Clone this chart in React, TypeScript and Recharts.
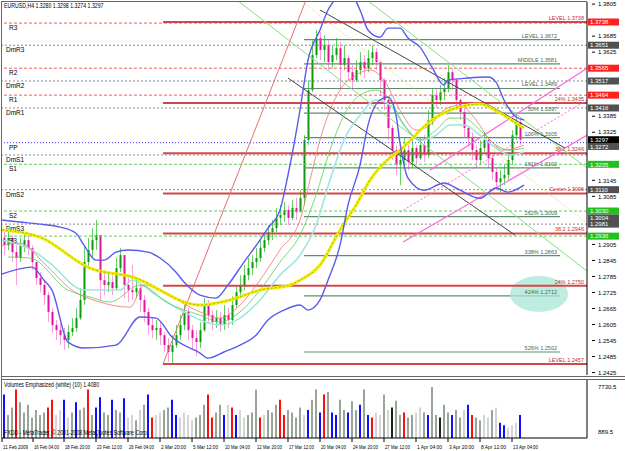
import React from 'react'
import { ComposedChart, Bar, Line, XAxis, YAxis, ReferenceLine, Cell } from 'recharts'

// EURUSD H4, candles sampled every 8 hours
const closes = [
  1.2902, 1.2929, 1.2876, 1.2854, 1.2902, 1.2921, 1.2891, 1.2839, 1.2779, 1.2753,
  1.2715, 1.2652, 1.2603, 1.2584, 1.2565, 1.2547, 1.2577, 1.2592, 1.2629, 1.2697,
  1.2839, 1.2884, 1.2921, 1.2940, 1.2771, 1.2753, 1.2764, 1.2741, 1.2816, 1.2865,
  1.2753, 1.2734, 1.2726, 1.2741, 1.2697, 1.2652, 1.2603, 1.2584, 1.2592, 1.2565,
  1.2528, 1.2502, 1.2528, 1.2565, 1.2603, 1.2652, 1.2584, 1.2554, 1.2539, 1.2584,
  1.2678, 1.2640, 1.2614, 1.2629, 1.2603, 1.2640, 1.2622, 1.2678, 1.2726, 1.2753,
  1.2790, 1.2816, 1.2839, 1.2854, 1.2891, 1.2921, 1.2951, 1.2966, 1.3004, 1.3015,
  1.3034, 1.3004, 1.3041, 1.3026, 1.3079, 1.3296, 1.3483, 1.3614, 1.3678, 1.3633,
  1.3651, 1.3588, 1.3614, 1.3640, 1.3577, 1.3603, 1.3550, 1.3520, 1.3558, 1.3588,
  1.3565, 1.3603, 1.3625, 1.3588, 1.3520, 1.3446, 1.3341, 1.3258, 1.3202, 1.3221,
  1.3258, 1.3213, 1.3266, 1.3228, 1.3277, 1.3240, 1.3371, 1.3464, 1.3446, 1.3475,
  1.3490, 1.3550, 1.3520, 1.3446, 1.3401, 1.3341, 1.3303, 1.3258, 1.3221, 1.3266,
  1.3296, 1.3228, 1.3176, 1.3138, 1.3153, 1.3165, 1.3221, 1.3314, 1.3363, 1.3297,
]
const highs = [
  1.2951, 1.2966, 1.2940, 1.2902, 1.2929, 1.2947, 1.2940, 1.2902, 1.2839, 1.2801,
  1.2764, 1.2726, 1.2667, 1.2622, 1.2607, 1.2592, 1.2603, 1.2629, 1.2667, 1.2741,
  1.2902, 1.2929, 1.2966, 1.2996, 1.2929, 1.2809, 1.2801, 1.2790, 1.2854, 1.2891,
  1.2854, 1.2779, 1.2828, 1.2779, 1.2753, 1.2715, 1.2667, 1.2629, 1.2622, 1.2614,
  1.2577, 1.2554, 1.2565, 1.2603, 1.2640, 1.2678, 1.2667, 1.2603, 1.2584, 1.2614,
  1.2704, 1.2697, 1.2659, 1.2659, 1.2652, 1.2678, 1.2667, 1.2711, 1.2753, 1.2790,
  1.2828, 1.2854, 1.2865, 1.2891, 1.2921, 1.2951, 1.2977, 1.2996, 1.3041, 1.3052,
  1.3064, 1.3052, 1.3071, 1.3079, 1.3108, 1.3314, 1.3520, 1.3670, 1.3708, 1.3700,
  1.3689, 1.3670, 1.3651, 1.3678, 1.3663, 1.3651, 1.3614, 1.3577, 1.3595, 1.3625,
  1.3614, 1.3633, 1.3651, 1.3640, 1.3595, 1.3528, 1.3453, 1.3352, 1.3277, 1.3258,
  1.3303, 1.3277, 1.3296, 1.3277, 1.3303, 1.3314, 1.3408, 1.3490, 1.3490, 1.3502,
  1.3528, 1.3577, 1.3565, 1.3528, 1.3453, 1.3416, 1.3352, 1.3326, 1.3277, 1.3296,
  1.3326, 1.3303, 1.3240, 1.3191, 1.3183, 1.3202, 1.3240, 1.3333, 1.3389, 1.3378,
]
const lows = [
  1.2865, 1.2884, 1.2839, 1.2753, 1.2839, 1.2876, 1.2865, 1.2809, 1.2753, 1.2726,
  1.2678, 1.2614, 1.2573, 1.2547, 1.2528, 1.2510, 1.2517, 1.2562, 1.2577, 1.2622,
  1.2678, 1.2816, 1.2854, 1.2884, 1.2697, 1.2715, 1.2726, 1.2715, 1.2734, 1.2801,
  1.2704, 1.2689, 1.2697, 1.2704, 1.2652, 1.2614, 1.2565, 1.2554, 1.2547, 1.2528,
  1.2502, 1.2464, 1.2457, 1.2517, 1.2547, 1.2584, 1.2547, 1.2510, 1.2487, 1.2517,
  1.2577, 1.2614, 1.2584, 1.2592, 1.2577, 1.2584, 1.2592, 1.2603, 1.2667, 1.2704,
  1.2734, 1.2771, 1.2790, 1.2816, 1.2839, 1.2876, 1.2902, 1.2921, 1.2951, 1.2977,
  1.2989, 1.2977, 1.2996, 1.2996, 1.3034, 1.3052, 1.3277, 1.3475, 1.3603, 1.3595,
  1.3588, 1.3558, 1.3565, 1.3595, 1.3483, 1.3558, 1.3520, 1.3490, 1.3513, 1.3539,
  1.3528, 1.3550, 1.3577, 1.3558, 1.3464, 1.3408, 1.3296, 1.3221, 1.3165, 1.3127,
  1.3202, 1.3183, 1.3191, 1.3202, 1.3221, 1.3213, 1.3228, 1.3352, 1.3416, 1.3427,
  1.3446, 1.3475, 1.3483, 1.3408, 1.3371, 1.3303, 1.3277, 1.3221, 1.3191, 1.3202,
  1.3251, 1.3191, 1.3146, 1.3108, 1.3101, 1.3127, 1.3146, 1.3202, 1.3296, 1.3277,
]
const firstOpen = 1.2930

const vols = [
  6545, 3465, 4620, 7315, 5390, 3850, 5005, 3080, 4235, 3465,
  3850, 4620, 5775, 3465, 4235, 5775, 3080, 3850, 5390, 4235,
  4620, 7315, 3465, 4620, 6160, 3850, 3465, 5775, 4235, 3850,
  6006, 3080, 3465, 2695, 4235, 5005, 6545, 3080, 3465, 3850,
  4235, 4620, 5775, 3465, 3080, 3850, 3465, 2695, 3080, 3465,
  5005, 6545, 3080, 3850, 5005, 3465, 5005, 4620, 3465, 4235,
  3080, 3465, 3850, 7315, 3080, 3465, 4235, 3850, 5005, 5775,
  3465, 4235, 3850, 3080, 4620, 3465, 4235, 5775, 7315, 3850,
  6545, 6930, 3850, 3465, 5775, 4235, 3850, 5544, 4235, 5005,
  7315, 3465, 3080, 3850, 3465, 6545, 4235, 4620, 5621, 3465,
  3850, 3080, 3465, 3850, 4620, 3850, 3465, 7700, 3465, 3080,
  5005, 3850, 3465, 4235, 3080, 4235, 5005, 3465, 3080, 2695,
  3465, 3080, 4235, 4620, 2310, 1925, 1540, 1925, 2310, 3465,
]
// g grey, l light grey, b blue, r red, k black
const volKinds = 'bggrggggggg' + 'rrllblgbggrgbbggbggbllglgbrllggbbllllgggrrggbl' +
  'rbllgggrlgggrrgggglbggbrgbbggbggbgbrllglkggrggllgbggkggbgglbrggllglbblllbrk'

const upperBand = [[-0.5, 1.2996], [4, 1.2989], [9, 1.2981], [14, 1.297], [18, 1.2947], [20, 1.2902], [23, 1.2846], [25, 1.2846], [28, 1.2876], [31, 1.2884], [36, 1.2876], [39, 1.2854], [43, 1.2801], [45, 1.2764], [49, 1.2715], [53, 1.2704], [56, 1.2753], [60, 1.2839], [64, 1.2921], [66, 1.2966], [69, 1.3034], [71, 1.3165], [74, 1.3408], [76, 1.3595], [79, 1.3708], [81, 1.3783], [84, 1.3839], [86, 1.3857], [89, 1.3783], [91, 1.3708], [94, 1.3681], [96, 1.3715], [99, 1.3715], [101, 1.3678], [104, 1.3644], [107, 1.3569], [110, 1.3502], [111, 1.352], [116, 1.3528], [121, 1.3532], [123, 1.3513], [125, 1.3446], [128, 1.3382], [130, 1.3371]]
const lowerBand = [[-0.5, 1.2794], [7, 1.282], [10, 1.2771], [12, 1.2734], [16, 1.2539], [20, 1.2517], [28, 1.2528], [34, 1.2633], [38, 1.2629], [42, 1.2558], [49, 1.2498], [51, 1.2479], [55, 1.2502], [59, 1.2528], [63, 1.2565], [66, 1.2622], [70, 1.2659], [74, 1.2678], [76, 1.2659], [79, 1.2697], [81, 1.2771], [84, 1.2902], [86, 1.3052], [89, 1.3202], [91, 1.3352], [94, 1.3446], [96, 1.3457], [98, 1.3389], [99, 1.3284], [101, 1.3153], [105, 1.3108], [110, 1.3135], [114, 1.3108], [119, 1.3078], [123, 1.3116], [126, 1.3101], [130, 1.3127]]
const yellowMa = [[-0.5, 1.2959], [9, 1.2932], [21.5, 1.2816], [32, 1.2783], [49, 1.2678], [56.5, 1.2697], [64, 1.2734], [71.5, 1.2753], [74, 1.2771], [79, 1.2828], [84, 1.2959], [88, 1.3052], [91.5, 1.3146], [95, 1.321], [99, 1.3258], [107, 1.3371], [116, 1.3427], [119, 1.3431], [124, 1.3397], [128, 1.3359], [130, 1.3341]]
const redMa = [[-0.5, 1.2902], [4, 1.291], [10, 1.2835], [17, 1.2734], [24, 1.2689], [31.5, 1.267], [35, 1.2753], [41, 1.2715], [49, 1.2652], [54, 1.2629], [59, 1.2678], [64, 1.2771], [69, 1.2884], [74, 1.2996], [76.5, 1.3146], [79, 1.3296], [81.5, 1.3408], [84, 1.3483], [88, 1.3539], [91.5, 1.3558], [95, 1.352], [99, 1.3408], [103, 1.3333], [106.5, 1.3352], [110, 1.3408], [114, 1.3427], [118, 1.3371], [121.5, 1.3296], [125, 1.3258], [130, 1.3277]]
const greenMa = [[1, 1.2858], [6.5, 1.2854], [16, 1.2734], [21.5, 1.2708], [26.5, 1.2689], [34, 1.2753], [41, 1.2685], [49, 1.264], [54, 1.2614], [59, 1.2652], [64, 1.2734], [69, 1.2839], [74, 1.294], [78, 1.309], [81.5, 1.3258], [85, 1.3389], [89, 1.3464], [93, 1.3483], [96.5, 1.3446], [100, 1.3352], [104, 1.3296], [108, 1.3333], [111.5, 1.3378], [115, 1.3378], [119, 1.3333], [123, 1.3277], [126.5, 1.3258], [130, 1.3266]]
const cyanMa = [[-0.5, 1.2921], [7, 1.2884], [11.5, 1.2835], [20, 1.2734], [29, 1.2734], [32, 1.2771], [38, 1.2715], [45, 1.2652], [49, 1.2622], [54, 1.2603], [59, 1.2629], [64, 1.2697], [69, 1.279], [74, 1.2865], [78, 1.2977], [81.5, 1.3146], [85, 1.3296], [89, 1.3389], [93, 1.3446], [96.5, 1.3427], [100, 1.3352], [104, 1.3296], [108, 1.3314], [111.5, 1.3352], [115, 1.3352], [119, 1.3314], [123, 1.3266], [126.5, 1.324], [130, 1.3251]]

const pivotNames = ['R3', 'DmR3', 'R2', 'DmR2', 'R1', 'DmR1', 'PP', 'DmS1', 'S1', 'DmS2', 'S2', 'DmS3', 'S3']
const pivotPrices = [1.3734, 1.3651, 1.3565, 1.3517, 1.3464, 1.3416, 1.3286, 1.3240, 1.3205, 1.3110, 1.3030, 1.2981, 1.2936]

const redLevelNames = ['LEVEL', '24%', '38.2', 'Center', '38.2', '24%', 'LEVEL']
const redLevelPrices = [1.3738, 1.3435, 1.3246, 1.3096, 1.2946, 1.2750, 1.2457]
const fiboNames = ['LEVEL', 'MIDDLE', 'LEVEL', '50%', '100%', '161%', '262%', '338%', '424%', '526%']
const fiboPrices = [1.3672, 1.3581, 1.3489, 1.3397, 1.3305, 1.3192, 1.3009, 1.2863, 1.2712, 1.2502]

const tagPrices = [1.3738, 1.3651, 1.3565, 1.3517, 1.3464, 1.3416, 1.3297, 1.3272, 1.3205, 1.3110, 1.3030, 1.3004, 1.2981, 1.2936]
const tagKinds = ['r', 'k', 'r', 'k', 'r', 'k', 'b', 'k', 'g', 'k', 'g', 'k', 'k', 'g']

const priceTicks = [1.2425, 1.2485, 1.2545, 1.2605, 1.2665, 1.2725, 1.2785, 1.2845, 1.2905, 1.2965, 1.3025, 1.3085, 1.3145, 1.3205, 1.3265, 1.3325, 1.3385, 1.3445, 1.3505, 1.3565, 1.3625, 1.3685, 1.3745, 1.3805]
const dateTicks = [-0.5, 7.25, 15, 23, 31, 39, 47, 55, 63, 71, 79, 87, 95, 103, 111, 119, 127]
const dateLabels = ['11 Feb 2009', '16 Feb 04:00', '18 Feb 20:00', '23 Feb 12:00', '26 Feb 04:00', '2 Mar 20:00', '5 Mar 12:00', '10 Mar 04:00', '12 Mar 20:00', '17 Mar 12:00', '20 Mar 04:00', '24 Mar 20:00', '27 Mar 12:00', '1 Apr 04:00', '3 Apr 20:00', '8 Apr 12:00', '13 Apr 04:00']

const FONT = '"Liberation Sans", "DejaVu Sans", sans-serif'
const X_DOMAIN: [number, number] = [-0.5, 145.75]
const Y_DOMAIN: [number, number] = [1.24159, 1.38129]
const FIB_START = 39.75
const FIB_END = 145.75

const rows = closes.map((c, i) => {
  const o = i === 0 ? firstOpen : closes[i - 1]
  const h = Math.max(highs[i], o, c)
  const l = Math.min(lows[i], o, c)
  return { i, o, c, h, l, range: [l, h], vol: vols[i], kind: volKinds[i] }
})

// axis labels hidden under the price tags are not drawn (as in the terminal)
const shownTicks = priceTicks.filter((t) => tagPrices.every((p) => Math.abs(p - t) > 0.0023))

const pts = (arr: number[][]) => arr.map(([i, v]) => ({ i, v }))

const volColor: Record<string, string> = { g: '#9aa59a', l: '#d4d4d4', b: '#1010ff', r: '#ff1010', k: '#202020' }
const tagColor: Record<string, string> = { r: '#ff2020', k: '#505050', b: '#000000', g: '#20c020' }

const Candle = (props: any) => {
  const { x, y, width, height, payload } = props
  const top = Math.min(y, y + height)
  const ht = Math.abs(height)
  const { o, c, h, l } = payload
  const k = ht / Math.max(h - l, 1e-6)
  const yo = top + (h - o) * k
  const yc = top + (h - c) * k
  const up = c >= o
  const cx = Math.round(x + width / 2) + 0.5
  return (
    <g>
      <line x1={cx} x2={cx} y1={top} y2={top + ht} stroke={up ? '#5fd25f' : '#ff9ade'} />
      <rect x={cx - 1} y={Math.min(yo, yc)} width={2} height={Math.max(1, Math.abs(yc - yo))} fill={up ? '#0d9a0d' : '#e0149a'} />
    </g>
  )
}

const pivotStyle = (name: string) => {
  if (name.startsWith('Dm')) return { stroke: '#8a8a8a', dash: '2 2' }
  if (name === 'PP') return { stroke: '#3c3cff', dash: '1 2' }
  if (name.startsWith('R')) return { stroke: '#ff5a5a', dash: '3 2' }
  return { stroke: '#66cc66', dash: '3 2' }
}

const leftLabel = (text: string, dx: number) => (p: any) => (
  <text x={dx} y={p.viewBox.y + 7} fontSize={6.5} fontFamily={FONT} fill="#000">{text}</text>
)
const rightLabel = (text: string, color: string) => (p: any) => (
  <text x={p.viewBox.x + p.viewBox.width - 3} y={p.viewBox.y - 2} fontSize={5.5} fontFamily={FONT} fill={color} textAnchor="end">{text}</text>
)
// the 424% target is circled in the reference
const circledLabel = (text: string, color: string) => (p: any) => (
  <g>
    <ellipse cx={p.viewBox.x + p.viewBox.width - 21} cy={p.viewBox.y - 2} rx={29} ry={18} fill="#a9e6d6" fillOpacity={0.75} />
    <text x={p.viewBox.x + p.viewBox.width - 3} y={p.viewBox.y - 2} fontSize={5.5} fontFamily={FONT} fill={color} textAnchor="end">{text}</text>
  </g>
)
const tagLabel = (price: number, kind: string) => (p: any) => (
  <g>
    <rect x={p.viewBox.x + p.viewBox.width + 1} y={p.viewBox.y - 3.5} width={31} height={7} fill={tagColor[kind]} />
    <text x={p.viewBox.x + p.viewBox.width + 3} y={p.viewBox.y + 2.2} fontSize={6} fontFamily={FONT} fill="#fff">{price.toFixed(4)}</text>
  </g>
)

const PriceTick = (p: any) => (
  <g>
    <line x1={p.x - 3} x2={p.x} y1={p.y} y2={p.y} stroke="#000" />
    <text x={p.x + 3} y={p.y + 2.2} fontSize={6} fontFamily={FONT} fill="#000">{Number(p.payload.value).toFixed(4)}</text>
  </g>
)
const DateTick = (p: any) => {
  const idx = dateTicks.indexOf(p.payload.value)
  return (
    <g>
      <line x1={p.x} x2={p.x} y1={p.y - 8} y2={p.y - 4} stroke="#000" />
      <text x={p.x + 1} y={p.y + 3} fontSize={5.2} fontFamily={FONT} fill="#000" textLength={25} lengthAdjust="spacingAndGlyphs">{dateLabels[idx]}</text>
    </g>
  )
}
const VolTick = (p: any) => (
  <text x={p.x + 3} y={p.y + 2.2} fontSize={6} fontFamily={FONT} fill="#000">{p.payload.value === 7730.5 ? '7730.5' : '889.5'}</text>
)

const seg = (a: number[], b: number[]) => [{ x: a[0], y: a[1] }, { x: b[0], y: b[1] }]

const small: React.CSSProperties = { position: 'absolute', fontSize: 6.5, lineHeight: '8px', color: '#000', whiteSpace: 'nowrap', transform: 'scaleX(0.8)', transformOrigin: 'left top' }

export default function App() {
  return (
    <div style={{ position: 'absolute', left: 0, top: 0, width: 625, height: 451, background: '#fff', fontFamily: FONT, overflow: 'hidden' }}>
      <ComposedChart width={625} height={378} data={rows} margin={{ top: 2, right: 0, bottom: 3, left: 2 }} style={{ position: 'absolute', left: 0, top: 0 }}>
        <XAxis type="number" dataKey="i" domain={X_DOMAIN} hide allowDataOverflow />
        <YAxis orientation="right" type="number" domain={Y_DOMAIN} allowDataOverflow ticks={shownTicks} width={38} tick={<PriceTick />} tickLine={false} axisLine={{ stroke: '#000' }} interval={0} />

        {pivotNames.map((n, k) => {
          const s = pivotStyle(n)
          return <ReferenceLine key={n} y={pivotPrices[k]} stroke={s.stroke} strokeDasharray={s.dash} label={leftLabel(n, n.startsWith('Dm') ? 6 : 9)} />
        })}

        {fiboNames.map((n, k) => (
          <ReferenceLine key={'f' + k} segment={seg([75, fiboPrices[k]], [139, fiboPrices[k]])} stroke="#5e8e6c" strokeWidth={1.2}
            label={(n === '424%' ? circledLabel : rightLabel)(`${n}   ${fiboPrices[k].toFixed(4)}`, '#3d6b4a')} />
        ))}
        {redLevelNames.map((n, k) => (
          <ReferenceLine key={'r' + k} segment={seg([FIB_START, redLevelPrices[k]], [FIB_END, redLevelPrices[k]])} stroke="#d24848" strokeWidth={2} label={rightLabel(`${n}   ${redLevelPrices[k].toFixed(4)}`, '#c03030')} />
        ))}

        <ReferenceLine segment={seg([39.75, 1.2457], [75.5, 1.382])} stroke="#e07070" ifOverflow="hidden" />
        <ReferenceLine segment={seg([58.25, 1.382], [145.75, 1.2805])} stroke="#7fe07f" ifOverflow="hidden" />
        <ReferenceLine segment={seg([90.75, 1.382], [145.75, 1.3191])} stroke="#7fe07f" ifOverflow="hidden" />
        <ReferenceLine segment={seg([74, 1.382], [145.75, 1.2985])} stroke="#c8d840" strokeDasharray="1 2" ifOverflow="hidden" />
        <ReferenceLine segment={seg([79, 1.3783], [140.25, 1.3266])} stroke="#444" ifOverflow="hidden" />
        <ReferenceLine segment={seg([71, 1.3528], [127.75, 1.294])} stroke="#444" ifOverflow="hidden" />
        <ReferenceLine segment={seg([106.5, 1.3183], [145.75, 1.3565])} stroke="#ff66dd" strokeWidth={1.2} ifOverflow="hidden" />
        <ReferenceLine segment={seg([99, 1.3026], [145.75, 1.3446])} stroke="#ff66dd" strokeDasharray="2 2" ifOverflow="hidden" />
        <ReferenceLine segment={seg([99.75, 1.2914], [145.75, 1.3314])} stroke="#ff66dd" strokeWidth={1.2} ifOverflow="hidden" />

        <Line data={pts(cyanMa)} dataKey="v" type="monotone" dot={false} stroke="#9ee6e0" strokeWidth={1.6} isAnimationActive={false} />
        <Line data={pts(greenMa)} dataKey="v" type="monotone" dot={false} stroke="#52d052" strokeWidth={0.8} isAnimationActive={false} />
        <Line data={pts(redMa)} dataKey="v" type="monotone" dot={false} stroke="#f07070" strokeWidth={0.8} isAnimationActive={false} />
        <Line data={pts(yellowMa)} dataKey="v" type="monotone" dot={false} stroke="#f2ee00" strokeWidth={3} isAnimationActive={false} />
        <Line data={pts(yellowMa)} dataKey="v" type="monotone" dot={false} stroke="#8a8a20" strokeWidth={0.6} strokeDasharray="2 2" isAnimationActive={false} />
        <Line data={pts(upperBand)} dataKey="v" type="monotone" dot={false} stroke="#5a5aee" strokeWidth={1.4} isAnimationActive={false} />
        <Line data={pts(lowerBand)} dataKey="v" type="monotone" dot={false} stroke="#5a5aee" strokeWidth={1.4} isAnimationActive={false} />

        <Bar dataKey="range" barSize={3} shape={<Candle />} isAnimationActive={false} />

        {tagPrices.map((p, k) => (
          <ReferenceLine key={'t' + k} y={p} stroke="none" label={tagLabel(p, tagKinds[k])} />
        ))}
      </ComposedChart>

      <ComposedChart width={625} height={73} data={rows} margin={{ top: 2, right: 0, bottom: 0, left: 2 }} style={{ position: 'absolute', left: 0, top: 378 }}>
        <XAxis type="number" dataKey="i" domain={X_DOMAIN} allowDataOverflow ticks={dateTicks} interval={0} tick={<DateTick />} tickLine={false} axisLine={{ stroke: '#000' }} height={13} />
        <YAxis orientation="right" type="number" domain={[0, 8750]} ticks={[889.5, 7730.5]} width={38} tick={<VolTick />} tickLine={false} axisLine={{ stroke: '#000' }} interval={0} />
        <Bar dataKey="vol" barSize={2} isAnimationActive={false}>
          {rows.map((r) => <Cell key={r.i} fill={volColor[r.kind] || '#9aa59a'} />)}
        </Bar>
      </ComposedChart>

      <div style={{ position: 'absolute', left: 1, top: 1, width: 586, height: 0, borderTop: '1px solid #666' }} />
      <div style={{ position: 'absolute', left: 1, top: 1, width: 0, height: 437, borderLeft: '1px solid #666' }} />
      <div style={{ position: 'absolute', left: 1, top: 376, width: 624, height: 0, borderTop: '1px solid #666' }} />
      <div style={{ position: 'absolute', left: 1, top: 379, width: 624, height: 0, borderTop: '1px solid #666' }} />
      <div style={{ ...small, left: 4, top: 2 }}>EURUSD,H4  1.3280 1.3298 1.3274 1.3297</div>
      <div style={{ ...small, left: 4, top: 381 }}>Volumes Emphasized (white) (10)  1.4080</div>
      <div style={{ ...small, left: 4, top: 429 }}>FXDD - MetaTrader, © 2001-2008 MetaQuotes Software Corp.</div>
    </div>
  )
}
